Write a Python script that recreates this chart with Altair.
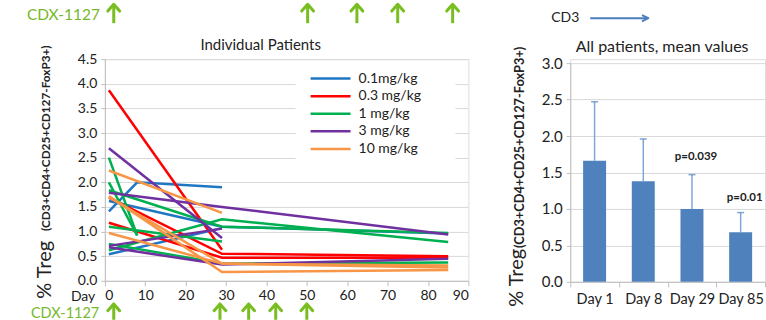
import altair as alt
import pandas as pd

FONT = "Lato"
TXT = "#222222"
GREEN_TXT = "#76B82A"
AX_GRAY = "#BFBFBF"
GRID = "#D9D9D9"

# ---------------- data: individual patients ----------------
dose_labels = ["0.1mg/kg", "0.3 mg/kg", "1 mg/kg", "3 mg/kg", "10 mg/kg"]
dose_colors = ["#1F77C4", "#FF0000", "#00B050", "#7030A0", "#F79646"]

d01_days = [[1, 8, 29], [1, 29, 85], [1, 29]]
d01_vals = [[1.41, 2.00, 1.90], [1.62, 1.10, 0.96], [0.54, 1.07]]
d03_days = [[1, 29], [1, 29, 85], [1, 29, 85]]
d03_vals = [[3.87, 0.63], [1.69, 0.55, 0.50], [1.18, 0.47, 0.47]]
d1_days = [[1, 8], [1, 8], [1, 29, 85], [1, 29], [1, 29, 85], [1, 29, 85]]
d1_vals = [[2.50, 0.92], [2.00, 0.92], [1.84, 1.10, 0.97], [1.10, 0.80],
           [0.75, 0.35, 0.37], [0.62, 1.25, 0.79]]
d3_days = [[1, 29], [1, 29, 85], [1, 29], [1, 29, 85]]
d3_vals = [[2.69, 0.87], [1.79, 1.50, 0.94], [0.71, 1.06], [0.68, 0.33, 0.45]]
d10_days = [[1, 29], [1, 29, 85], [1, 29, 85], [1, 29, 85]]
d10_vals = [[2.24, 1.38], [1.72, 0.18, 0.22], [1.70, 0.35, 0.27], [0.97, 0.35, 0.31]]

x_ticks = list(range(0, 100, 10))
y_ticks_left = [0, 0.5, 1, 1.5, 2, 2.5, 3, 3.5, 4, 4.5]

# CDX-1127 dosing arrows (day positions)
cdx_days_bottom = [2.2, 28.5, 35.6, 42.3, 50.0]
cdx_days_top = [2.2, 50.2, 62.4, 72.5, 86.1]

# ---------------- data: mean values ----------------
bar_days = ["Day 1", "Day 8", "Day 29", "Day 85"]
bar_means = [1.66, 1.38, 1.00, 0.68]
bar_upper = [2.47, 1.96, 1.47, 0.95]
p_labels = ["", "", "p=0.039", "p=0.01"]
p_label_y = [0, 0, 1.71, 1.15]
y_ticks_right = [0, 0.5, 1, 1.5, 2, 2.5, 3]

# ---------------- build tables ----------------
rows = []
pid = 0
for lab, days_l, vals_l in zip(dose_labels,
                               [d01_days, d03_days, d1_days, d3_days, d10_days],
                               [d01_vals, d03_vals, d1_vals, d3_vals, d10_vals]):
    for days, vals in zip(days_l, vals_l):
        pid += 1
        for d, v in zip(days, vals):
            rows.append({"patient": pid, "dose": lab, "day": d, "val": v})
lines_df = pd.DataFrame(rows)

bars_df = pd.DataFrame({"day": bar_days, "mean": bar_means, "upper": bar_upper,
                        "p": p_labels, "py": p_label_y})


def one():
    return pd.DataFrame({"a": [0]})


def txt(s, x, y, **kw):
    return alt.Chart(pd.DataFrame({"t": [s]})).mark_text(font=FONT, **kw).encode(
        text="t:N", x=alt.value(x), y=alt.value(y))


# ---------------- left chart ----------------
LW, LH = 364, 222
xs = alt.Scale(domain=[0, 90], nice=False)
ys = alt.Scale(domain=[0, 4.5], nice=False)

lines = alt.Chart(lines_df).mark_line(strokeWidth=2.5).encode(
    x=alt.X("day:Q", scale=xs,
            axis=alt.Axis(values=x_ticks, title=None, grid=False, labelFontSize=14,
                          labelColor=TXT, tickSize=5, labelPadding=3,
                          domainColor=AX_GRAY, tickColor=AX_GRAY)),
    y=alt.Y("val:Q", scale=ys,
            axis=alt.Axis(values=y_ticks_left, format=".1f", title=None, grid=True,
                          gridColor=GRID, labelFontSize=14, labelColor=TXT, tickSize=4,
                          labelPadding=4, domainColor=AX_GRAY, tickColor=AX_GRAY)),
    color=alt.Color("dose:N", scale=alt.Scale(domain=dose_labels, range=dose_colors),
                    legend=None),
    detail="patient:N",
    order="day:Q",
)

# manual legend (white box over the gridlines)
legend_layers = [
    alt.Chart(one()).mark_rect(color="white").encode(
        x=alt.value(191), x2=alt.value(351), y=alt.value(3), y2=alt.value(110))
]
for i, (lab, col) in enumerate(zip(dose_labels, dose_colors)):
    yy = 19.5 + 17.6 * i
    legend_layers.append(
        alt.Chart(one()).mark_rule(color=col, strokeWidth=2.5).encode(
            x=alt.value(206), x2=alt.value(246), y=alt.value(yy)))
    legend_layers.append(txt(lab, 254, yy, align="left", baseline="middle",
                             fontSize=14, color=TXT))

arrow_green = "#78BE20"


def arrows(days, y_top, y_bot):
    df = pd.DataFrame({"day": days})
    shaft = alt.Chart(df).mark_rule(color=arrow_green, strokeWidth=3).encode(
        x=alt.X("day:Q", scale=xs), y=alt.value(y_top + 1), y2=alt.value(y_bot))
    head = alt.Chart(df).mark_point(shape="M-1,0.15L0,-1L1,0.15", filled=False,
                                    color=arrow_green, strokeWidth=3, size=140,
                                    strokeJoin="round", strokeCap="round",
                                    opacity=1).encode(
        x=alt.X("day:Q", scale=xs), y=alt.value(y_top + 6))
    return shaft + head


anchor = alt.Chart(one()).mark_square(opacity=0, size=1, filled=True).encode(
    x=alt.value(-104), y=alt.value(-58))

left = alt.layer(
    anchor,
    lines,
    *legend_layers,
    arrows(cdx_days_top, -55, -36),
    arrows(cdx_days_bottom, 245, 261),
    txt("CDX-1127", -78, -44, align="left", baseline="middle", fontSize=15.5, color=GREEN_TXT),
    txt("CDX-1127", -74, 255, align="left", baseline="middle", fontSize=14.5, color=GREEN_TXT),
    txt("Day", -34, 238.5, align="left", baseline="middle", fontSize=14, color=TXT),
    txt("Individual Patients", 156, -14, align="center", baseline="middle", fontSize=15, color=TXT),
    txt("% Treg", -60, 240, align="left", baseline="middle", angle=270, fontSize=20, color=TXT),
    txt("(CD3+CD4+CD25+CD127-FoxP3+)", -59, 172, align="left", baseline="middle",
        angle=270, fontSize=11.8, fontWeight="bold", color=TXT),
).properties(width=LW, height=LH)

# ---------------- right chart ----------------
RW, RH = 195, 223
axis_xr = alt.Axis(labelAngle=0, title=None, tickBand="extent", labelFontSize=14.5,
                   labelColor=TXT, tickSize=5, labelPadding=6,
                   domainColor=AX_GRAY, tickColor=AX_GRAY)
scale_xr = alt.Scale(domain=bar_days, paddingInner=0, paddingOuter=0)
axis_yr = alt.Axis(values=y_ticks_right, format=".1f", title=None, grid=True,
                   gridColor=GRID, labelFontSize=15, labelColor=TXT, tickSize=4,
                   labelPadding=4, domainColor=AX_GRAY, tickColor=AX_GRAY)
scale_yr = alt.Scale(domain=[0, 3], nice=False, range=[RH, 4])


def xr():
    return alt.X("day:N", sort=bar_days, scale=scale_xr, axis=axis_xr)


def yr(field):
    return alt.Y(field, scale=scale_yr, axis=axis_yr)


bars = alt.Chart(bars_df).mark_bar(size=23, color="#4F81BD").encode(
    x=xr(), y=yr("mean:Q"))
err = alt.Chart(bars_df).mark_rule(color="#7FA7D8", strokeWidth=1.5).encode(
    x=xr(), y=yr("mean:Q"), y2="upper:Q")
cap = alt.Chart(bars_df).mark_tick(color="#4F81BD", size=7, thickness=1.5).encode(
    x=xr(), y=yr("upper:Q"))
ptxt = alt.Chart(bars_df).mark_text(font=FONT, fontWeight="bold", fontSize=11.5,
                                    color=TXT, baseline="middle", dx=4).encode(
    x=xr(), y=yr("py:Q"), text="p:N")

cd3_arrow = alt.Chart(one()).mark_rule(color="#4A7EBB", strokeWidth=2).encode(
    x=alt.value(20), x2=alt.value(76), y=alt.value(-41))
cd3_head = alt.Chart(one()).mark_point(
    shape="M-1,-1L1,0L-1,1", filled=False, color="#4A7EBB", strokeWidth=2,
    strokeJoin="round", size=40, opacity=1).encode(x=alt.value(75), y=alt.value(-41))

right = alt.layer(
    bars, err, cap, ptxt, cd3_arrow, cd3_head,
    txt("CD3", -5, -41, align="center", baseline="middle", fontSize=14, color=TXT),
    txt("All patients, mean values", 92, -12, align="center", baseline="middle",
        fontSize=16, color=TXT),
    txt("% Treg", -53, 248, align="left", baseline="middle", angle=270, fontSize=20, color=TXT),
    txt("(CD3+CD4+CD25+CD127-FoxP3+)", -50, 189, align="left", baseline="middle",
        angle=270, fontSize=12.8, fontWeight="bold", color=TXT),
).properties(width=RW, height=RH)

chart = alt.hconcat(left, right, spacing=102, bounds="flush").properties(
    padding=0
).configure_view(stroke=None).configure(font=FONT)

chart.save("out.html", embed_options={"renderer": "svg", "actions": False})
